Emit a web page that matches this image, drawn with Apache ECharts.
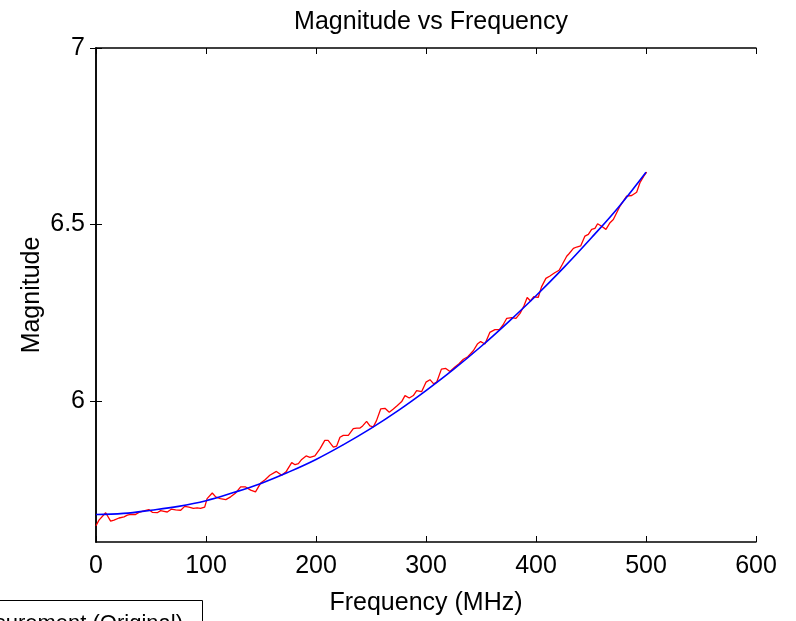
<!DOCTYPE html>
<html>
<head>
<meta charset="utf-8">
<script src="https://cdn.jsdelivr.net/npm/echarts@6/dist/echarts.min.js"></script>
<style>html,body{margin:0;padding:0;background:#fff}#c{width:796px;height:621px}</style>
</head>
<body>
<div id="c"></div>
<script>
// Measured (red, noisy) data: frequency (MHz), magnitude
const measFreq = [0, 2.7, 8.8, 13.3, 16.4, 20.9, 25.5, 28.5, 31.5, 36, 39, 43.6, 48, 51.2, 55.7, 58.8, 61.8, 64.8, 68.4, 72.4, 77, 80.6, 84.5, 88.5, 92, 95, 98.8, 101, 105.7, 108.8, 113, 118, 122.4, 127, 131.5, 136, 140.6, 145, 149.7, 154, 158, 164, 168.8, 173, 177.9, 181, 184, 187, 191, 194.5, 199, 203.6, 208, 211, 215.8, 218.8, 221.8, 224.8, 229.4, 233.9, 237, 240, 242.4, 246, 249, 252, 255, 258.8, 262.7, 266.6, 270.3, 274, 277.9, 280.9, 284.8, 288.5, 291.5, 296, 300, 303.6, 307, 309.7, 314, 318, 321.8, 326, 330, 334, 338, 343, 346.7, 349.7, 353.6, 358, 362.7, 366.7, 370, 373.4, 378, 381.8, 385.5, 389, 392, 395, 398, 402, 405, 409, 412.7, 417, 421, 424, 427.9, 430, 434, 437, 440.6, 444.5, 447.6, 450.6, 453.6, 456, 459.7, 463.6, 467.3, 470.3, 476.4, 482.4, 487, 491.5, 494.5, 498, 500.6];
const measMag = [5.646, 5.662, 5.683, 5.659, 5.662, 5.668, 5.671, 5.676, 5.678, 5.678, 5.684, 5.688, 5.692, 5.684, 5.683, 5.689, 5.687, 5.685, 5.693, 5.691, 5.690, 5.701, 5.699, 5.695, 5.697, 5.695, 5.699, 5.723, 5.739, 5.728, 5.723, 5.720, 5.728, 5.739, 5.756, 5.756, 5.747, 5.742, 5.767, 5.777, 5.789, 5.800, 5.789, 5.800, 5.825, 5.819, 5.822, 5.834, 5.844, 5.840, 5.844, 5.864, 5.888, 5.888, 5.869, 5.872, 5.897, 5.902, 5.902, 5.921, 5.923, 5.923, 5.929, 5.942, 5.929, 5.926, 5.944, 5.977, 5.979, 5.968, 5.977, 5.987, 5.998, 6.015, 6.008, 6.015, 6.029, 6.026, 6.053, 6.060, 6.048, 6.053, 6.090, 6.092, 6.083, 6.095, 6.105, 6.118, 6.125, 6.142, 6.161, 6.168, 6.161, 6.194, 6.202, 6.202, 6.215, 6.234, 6.236, 6.234, 6.248, 6.269, 6.293, 6.283, 6.295, 6.293, 6.323, 6.347, 6.354, 6.363, 6.370, 6.387, 6.410, 6.417, 6.432, 6.436, 6.439, 6.467, 6.472, 6.486, 6.489, 6.502, 6.495, 6.486, 6.505, 6.514, 6.552, 6.580, 6.582, 6.591, 6.618, 6.637, 6.648];

// Fitted (blue) curve
const fitFreq = [0, 25, 50, 75, 100, 125, 150, 175, 200, 225, 250, 275, 300, 325, 350, 375, 400, 425, 450, 475, 500];
const fitMag = [5.678, 5.681, 5.690, 5.701, 5.717, 5.740, 5.766, 5.798, 5.834, 5.876, 5.922, 5.973, 6.029, 6.089, 6.154, 6.224, 6.298, 6.377, 6.461, 6.549, 6.648];

const yTicks = [6, 6.5, 7];
const titleText = 'Magnitude vs Frequency';
const xName = 'Frequency (MHz)';
const yName = 'Magnitude';
const legendText = 'Measurement (Original)';

const FONT = '"Liberation Sans", Arial, Helvetica, sans-serif';
const FS = 25;
const chart = echarts.init(document.getElementById('c'));
const axisLine = { show: true, lineStyle: { color: '#000', width: 1.5 } };
const tick = { show: true, inside: true, length: 6, lineStyle: { color: '#000', width: 1 } };

chart.setOption({
  animation: false,
  backgroundColor: '#fff',
  title: {
    text: titleText, left: 426, textAlign: 'center', top: 5,
    textStyle: { fontFamily: FONT, fontSize: FS, fontWeight: 'normal', color: '#000' }
  },
  grid: { left: 96, right: 40, top: 48, bottom: 78, containLabel: false },
  xAxis: [{
    type: 'value', min: 0, max: 600, interval: 100, position: 'bottom',
    name: xName, nameLocation: 'middle', nameGap: 49, nameMoveOverlap: false,
    nameTextStyle: { fontFamily: FONT, fontSize: FS, color: '#000' },
    axisLine, axisTick: tick, splitLine: { show: false },
    axisLabel: { fontFamily: FONT, fontSize: FS, color: '#000', margin: 12 }
  }, {
    type: 'value', min: 0, max: 600, interval: 100, position: 'top',
    axisLine, axisTick: tick, splitLine: { show: false }, axisLabel: { show: false }
  }],
  yAxis: [{
    type: 'value', min: 5.6, max: 7, position: 'left',
    name: yName, nameLocation: 'middle', nameGap: 51, nameRotate: 90, nameMoveOverlap: false,
    nameTextStyle: { fontFamily: FONT, fontSize: FS, color: '#000' },
    axisLine,
    axisTick: Object.assign({}, tick, { customValues: yTicks }),
    splitLine: { show: false },
    axisLabel: { fontFamily: FONT, fontSize: FS, color: '#000', margin: 11, customValues: yTicks }
  }, {
    type: 'value', min: 5.6, max: 7, position: 'right',
    axisLine,
    axisTick: Object.assign({}, tick, { customValues: yTicks }),
    splitLine: { show: false }, axisLabel: { show: false }
  }],
  series: [{
    type: 'line', name: 'measured', showSymbol: false, symbol: 'none',
    data: measFreq.map((f, i) => [f, measMag[i]]),
    lineStyle: { color: '#ff0000', width: 1.3 }, z: 2
  }, {
    type: 'line', name: 'fit', showSymbol: false, symbol: 'none', smooth: 0.4,
    data: fitFreq.map((f, i) => [f, fitMag[i]]),
    lineStyle: { color: '#0000ff', width: 1.6 }, z: 3
  }],
  graphic: [{
    type: 'rect', left: -120, top: 600, z: 10,
    shape: { width: 322, height: 60 },
    style: { fill: '#fff', stroke: '#000', lineWidth: 1 }
  }, {
    type: 'text', z: 11, x: 183, y: 613,
    style: { text: legendText, fontFamily: FONT, fontSize: 22, fill: '#000', textAlign: 'right', textVerticalAlign: 'top' }
  }]
});
</script>
</body>
</html>
